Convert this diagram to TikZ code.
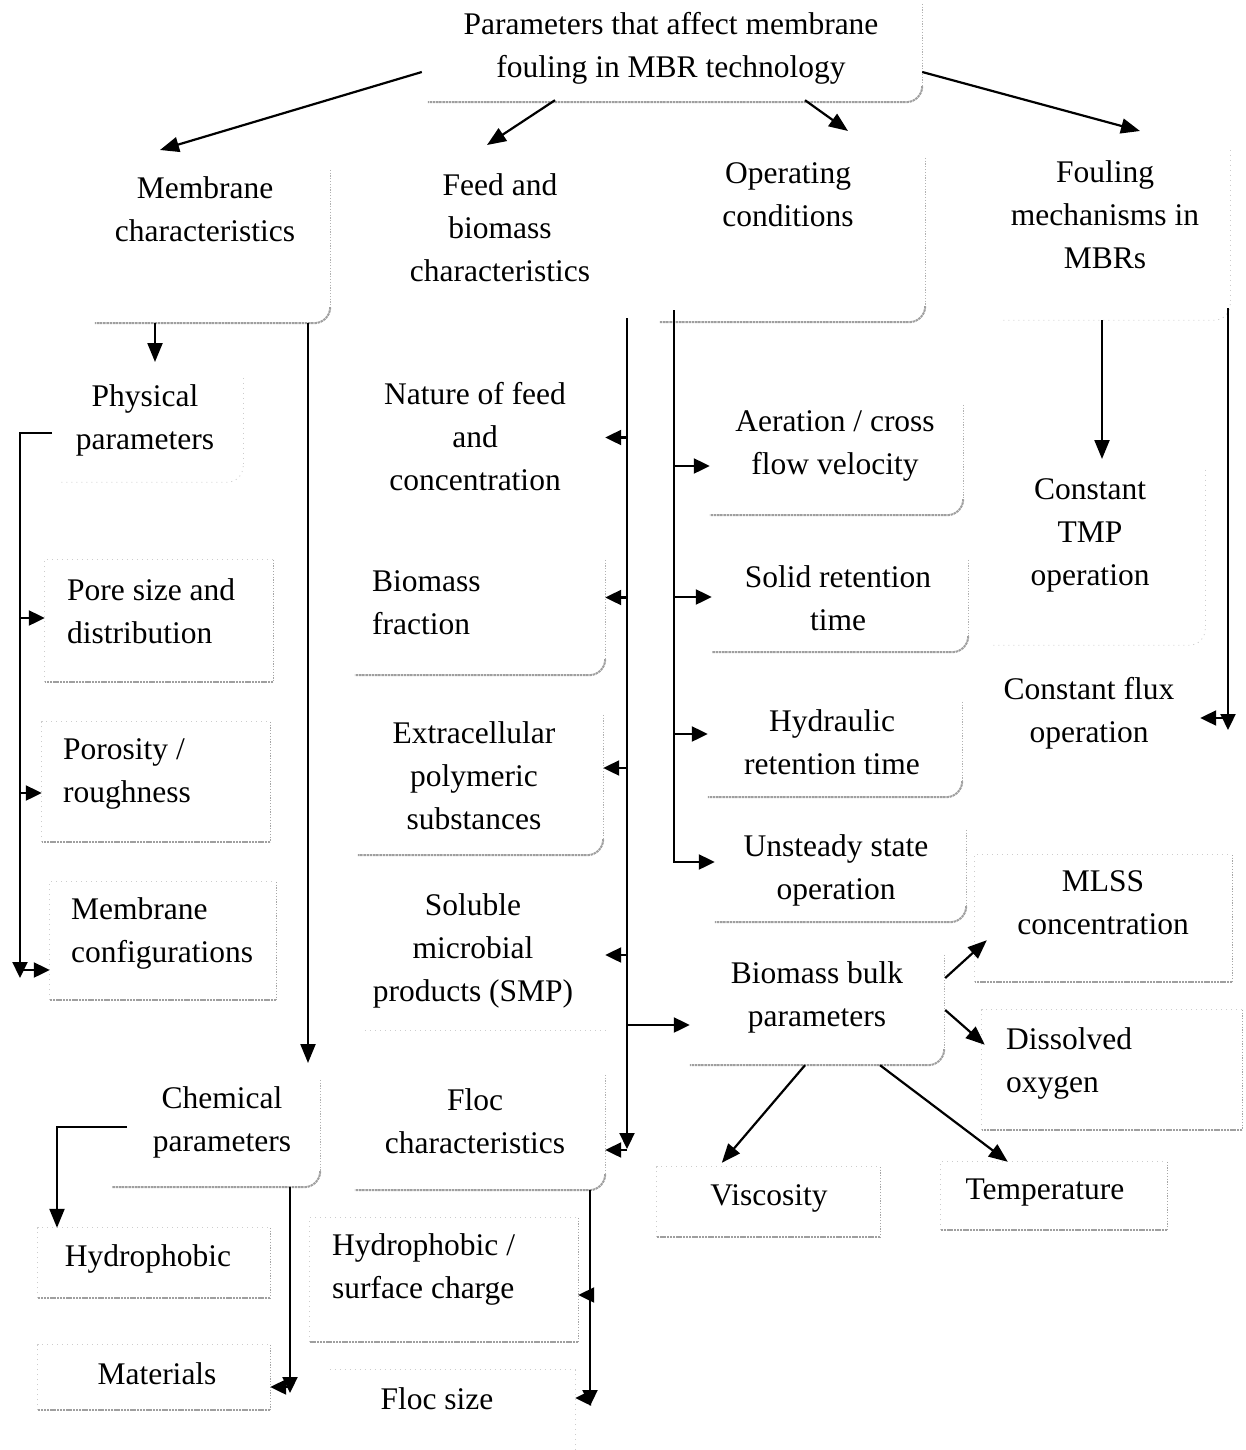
\documentclass[tikz,border=0pt]{standalone}
\usepackage{fontspec}
\setmainfont{Liberation Serif}
\usetikzlibrary{arrows.meta,fit,calc}
\tikzset{
  lbl/.style={font=\fontsize{31.5}{43}\selectfont, align=center, inner sep=0pt},
  lbll/.style={lbl, align=left, anchor=west},
  boxn/.style={inner sep=0pt, draw=none},
  conn/.style={line width=2.2pt},
  arr/.style={conn, -{Triangle[length=19pt,width=15pt]}},
  arrs/.style={conn, -{Triangle[length=16pt,width=15pt]}},
  redge/.style={gray!60, line width=1pt, dash pattern=on 1.2pt off 1.6pt},
  bedge/.style={gray!75, line width=2pt, dash pattern=on 2.5pt off 0.7pt},
  fedge/.style={gray!40, line width=0.8pt, dash pattern=on 1pt off 4pt},
}
% frame with a rounded lower right corner, drawn on the right and bottom sides
\newcommand\roundframe[1]{%
  \draw[redge] (#1.north east) -- ([shift={(0,-16)}]#1.south east);
  \draw[bedge, rounded corners=16pt] ([shift={(0,-16)}]#1.south east) -- (#1.south east) -- (#1.south west);}
% plain rectangular frame, faint on top and left
\newcommand\rectframe[1]{%
  \draw[fedge] (#1.south west) -- (#1.north west) -- (#1.north east);
  \draw[redge, gray!70] (#1.north east) -- (#1.south east);
  \draw[bedge] (#1.south east) -- (#1.south west);}
% barely visible rounded frame
\newcommand\faintframe[1]{%
  \draw[fedge] (#1.north east) -- ([shift={(0,-16)}]#1.south east);
  \draw[fedge, rounded corners=16pt] ([shift={(0,-16)}]#1.south east) -- (#1.south east) -- (#1.south west);}

\begin{document}
\begin{tikzpicture}[x=1pt,y=-1pt]
\useasboundingbox (0,0) rectangle (1246,1450);

% ---------- box areas ----------
\node[boxn, fit={(428,4) (922,102)}] (bTop) {};
\node[boxn, fit={(95,170) (330,323)}] (bMem) {};
\node[boxn, fit={(380,165) (620,318)}] (bFeed) {};
\node[boxn, fit={(660,158) (925,322)}] (bOp) {};
\node[boxn, fit={(1000,150) (1230,320)}] (bFoul) {};
\node[boxn, fit={(60,378) (243,482)}] (bPhys) {};
\node[boxn, fit={(45,560) (273,682)}] (bPore) {};
\node[boxn, fit={(42,722) (270,842)}] (bPoro) {};
\node[boxn, fit={(50,882) (276,1000)}] (bMcfg) {};
\node[boxn, fit={(112,1080) (320,1187)}] (bChem) {};
\node[boxn, fit={(38,1228) (270,1298)}] (bHyd) {};
\node[boxn, fit={(38,1345) (270,1410)}] (bMat) {};
\node[boxn, fit={(355,370) (605,505)}] (bNat) {};
\node[boxn, fit={(355,560) (605,675)}] (bBio) {};
\node[boxn, fit={(358,715) (603,855)}] (bEps) {};
\node[boxn, fit={(365,880) (605,1030)}] (bSmp) {};
\node[boxn, fit={(355,1075) (605,1190)}] (bFloc) {};
\node[boxn, fit={(310,1218) (578,1342)}] (bHsc) {};
\node[boxn, fit={(330,1370) (575,1450)}] (bFsz) {};
\node[boxn, fit={(710,405) (963,515)}] (bAer) {};
\node[boxn, fit={(712,560) (968,652)}] (bSrt) {};
\node[boxn, fit={(708,702) (962,797)}] (bHrt) {};
\node[boxn, fit={(715,830) (966,922)}] (bUns) {};
\node[boxn, fit={(690,955) (944,1065)}] (bBulk) {};
\node[boxn, fit={(975,855) (1232,982)}] (bMlss) {};
\node[boxn, fit={(982,1010) (1242,1130)}] (bDo) {};
\node[boxn, fit={(657,1167) (880,1237)}] (bVis) {};
\node[boxn, fit={(941,1162) (1167,1230)}] (bTemp) {};
\node[boxn, fit={(990,470) (1205,645)}] (bTmp) {};
\node[boxn, fit={(990,665) (1200,760)}] (bFlux) {};

% ---------- frames ----------
\roundframe{bTop}
\roundframe{bMem}
\roundframe{bOp}
\faintframe{bFoul}
\faintframe{bPhys}
\rectframe{bPore}
\rectframe{bPoro}
\rectframe{bMcfg}
\roundframe{bChem}
\rectframe{bHyd}
\rectframe{bMat}
\roundframe{bBio}
\roundframe{bEps}
\draw[fedge] (bSmp.south west) -- (bSmp.south east);
\roundframe{bFloc}
\rectframe{bHsc}
\draw[fedge] (bFsz.north west) -- (bFsz.north east) -- (bFsz.south east);
\roundframe{bAer}
\roundframe{bSrt}
\roundframe{bHrt}
\roundframe{bUns}
\roundframe{bBulk}
\rectframe{bMlss}
\rectframe{bDo}
\rectframe{bVis}
\rectframe{bTemp}
\faintframe{bTmp}

% ---------- labels ----------
\node[lbl] (tTop) at (671,48) {Parameters that affect membrane\\fouling in MBR technology};
\node[lbl] (tMem) at (205,209) {Membrane\\characteristics};
\node[lbl] (tFeed) at (500,228) {Feed and\\biomass\\characteristics};
\node[lbl] (tOp) at (788,195) {Operating\\conditions};
\node[lbl] (tFoul) at (1105,215) {Fouling\\mechanisms in\\MBRs};
\node[lbl] (tPhys) at (145,420) {Physical\\parameters};
\node[lbll] (tPore) at (67,611) {Pore size and\\distribution};
\node[lbll] (tPoro) at (63,774) {Porosity /\\roughness};
\node[lbll] (tMcfg) at (71,933) {Membrane\\configurations};
\node[lbl] (tChem) at (222,1122) {Chemical\\parameters};
\node[lbl] (tHyd) at (148,1259) {Hydrophobic};
\node[lbl] (tMat) at (157,1374) {Materials};
\node[lbl] (tNat) at (475,437) {Nature of feed\\and\\concentration};
\node[lbll] (tBio) at (372,603) {Biomass\\fraction};
\node[lbl] (tEps) at (474,776) {Extracellular\\polymeric\\substances};
\node[lbl] (tSmp) at (473,951) {Soluble\\microbial\\products (SMP)};
\node[lbl] (tFloc) at (475,1121) {Floc\\characteristics};
\node[lbll] (tHsc) at (332,1269) {Hydrophobic /\\surface charge};
\node[lbl] (tFsz) at (437,1399) {Floc size};
\node[lbl] (tAer) at (835,446) {Aeration / cross\\flow velocity};
\node[lbl] (tSrt) at (838,598) {Solid retention\\time};
\node[lbl] (tHrt) at (832,742) {Hydraulic\\retention time};
\node[lbl] (tUns) at (836,870) {Unsteady state\\operation};
\node[lbl] (tBulk) at (817,997) {Biomass bulk\\parameters};
\node[lbl] (tMlss) at (1103,903) {MLSS\\concentration};
\node[lbll] (tDo) at (1006,1063) {Dissolved\\oxygen};
\node[lbl] (tVis) at (769,1198) {Viscosity};
\node[lbl] (tTemp) at (1045,1193) {Temperature};
\node[lbl] (tTmp) at (1090,535) {Constant\\TMP\\operation};
\node[lbl] (tFlux) at (1089,713) {Constant flux\\operation};

% ---------- free ends and trunk points ----------
\coordinate (a1) at (160,150);
\coordinate (a2) at (487,145);
\coordinate (a3) at (848,131);
\coordinate (a4) at (1140,131);
\coordinate (physTip) at (155,362);
\coordinate (mTrunk) at (308,1063);
\coordinate (physA) at (52,433);
\coordinate (physB) at (20,433);
\coordinate (physEnd) at (20,978);
\coordinate (chA) at (127,1127);
\coordinate (chB) at (57,1127);
\coordinate (chT) at (290,1393);
\coordinate (fTop) at (627,318);
\coordinate (fBot) at (627,1149);
\coordinate (flT) at (590,1406);
\coordinate (oTop) at (674,310);
\coordinate (fmTip) at (1102,459);
\coordinate (fmT) at (1228,308);
\coordinate (fmB) at (1228,730);

% ---------- connectors ----------
% from the title
\draw[arr] ([shift={(-6,19)}]bTop.west) -- (a1);
\draw[arr] ([shift={(-120,-2)}]bTop.south) -- (a2);
\draw[arr] ([shift={(130,-2)}]bTop.south) -- (a3);
\draw[arr] ([shift={(0,19)}]bTop.east) -- (a4);

% membrane characteristics
\draw[arr] (physTip |- bMem.south) -- (physTip);
\draw[arr] (mTrunk |- bMem.south) -- (mTrunk);
\draw[arrs] (physA) -- (physB) -- (physEnd);
\draw[arrs] ([shift={(0,-3)}]physB |- bPore.west) -- ([shift={(0,-3)}]bPore.west);
\draw[arrs] ([shift={(0,11)}]physB |- bPoro.west) -- ([shift={(0,11)}]bPoro.west);
\draw[arrs] ([shift={(0,29)}]physB |- bMcfg.west) -- ([shift={(0,29)}]bMcfg.west);
\draw[arr] (chA) -- (chB) -- (chB |- bHyd.north);
\draw[arrs] (chT |- bChem.south) -- (chT);
\draw[arrs] ([shift={(0,9.5)}]chT |- bMat.east) -- ([shift={(0,9.5)}]bMat.east);

% feed and biomass characteristics
\draw[arrs] (fTop) -- (fBot);
\draw[arrs] (fTop |- bNat.east) -- (bNat.east);
\draw[arrs] ([shift={(0,-20)}]fTop |- bBio.east) -- ([shift={(0,-20)}]bBio.east);
\draw[arrs] ([shift={(0,-17)}]fTop |- bEps.east) -- ([shift={(0,-17)}]bEps.east);
\draw[arrs] (fTop |- bSmp.east) -- (bSmp.east);
\draw[arrs] ([shift={(0,15)}]fTop |- bBulk.west) -- ([shift={(0,15)}]bBulk.west);
\draw[arrs] ([shift={(0,17.5)}]fTop |- bFloc.east) -- ([shift={(0,17.5)}]bFloc.east);
\draw[arrs] (flT |- bFloc.south) -- (flT);
\draw[arrs] ([shift={(0,15)}]flT |- bHsc.east) -- ([shift={(0,15)}]bHsc.east);
\draw[arrs] ([shift={(0,-12)}]flT |- bFsz.east) -- ([shift={(0,-12)}]bFsz.east);

% operating conditions
\draw[arrs] (oTop) |- ([shift={(0,-14)}]bUns.west);
\draw[arrs] ([shift={(0,6)}]oTop |- bAer.west) -- ([shift={(0,6)}]bAer.west);
\draw[arrs] ([shift={(0,-9)}]oTop |- bSrt.west) -- ([shift={(0,-9)}]bSrt.west);
\draw[arrs] ([shift={(0,-15.5)}]oTop |- bHrt.west) -- ([shift={(0,-15.5)}]bHrt.west);

% fouling mechanisms
\draw[arr] (fmTip |- bFoul.south) -- (fmTip);
\draw[arrs] (fmT) -- (fmB);
\draw[arrs] ([shift={(0,5.5)}]fmT |- bFlux.east) -- ([shift={(0,5.5)}]bFlux.east);

% biomass bulk parameters
\draw[arr] ([shift={(1,-32)}]bBulk.east) -- ([shift={(12,-42)}]bMlss.south west);
\draw[arr] ([shift={(1,0)}]bBulk.east) -- ([shift={(3,35)}]bDo.north west);
\draw[arr] ([shift={(-12,0)}]bBulk.south) -- ([shift={(65,-4)}]bVis.north west);
\draw[arr] ([shift={(63,0)}]bBulk.south) -- ([shift={(67,0)}]bTemp.north west);
\end{tikzpicture}
\end{document}
